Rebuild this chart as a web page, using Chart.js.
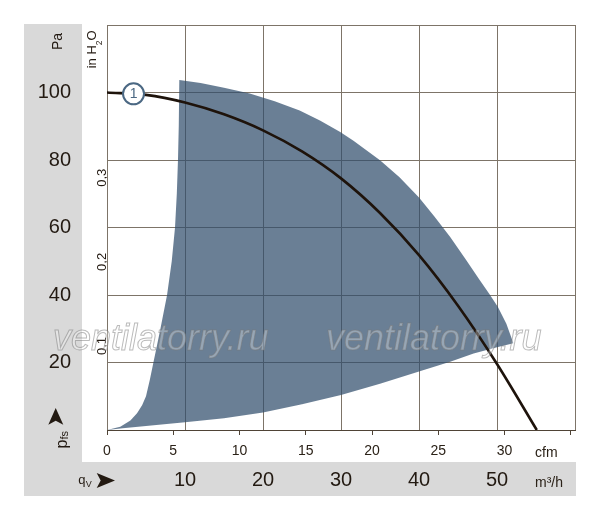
<!DOCTYPE html>
<html>
<head>
<meta charset="utf-8">
<script src="https://cdn.jsdelivr.net/npm/chart.js@4.4.0/dist/chart.umd.min.js"></script>
<style>
html,body{margin:0;padding:0;background:#ffffff;}
#wrap{width:600px;height:519px;}
</style>
</head>
<body>
<div id="wrap"><canvas id="c" width="600" height="519"></canvas></div>
<script>
// ---------- data ----------
const pressureTicksPa = [20, 40, 60, 80, 100];
const flowTicksM3h = [10, 20, 30, 40, 50];
const cfmTickLabels = [0, 5, 10, 15, 20, 25, 30];
const inH2OTickLabels = [0.1, 0.2, 0.3];

// characteristic curve 1 (m³/h, Pa)
const curveFlow     = [0,   5,    10,    15,    20,   25,    30,    35,   40,   45,   50,    55.1];
const curvePressure = [100, 99.3, 97.05, 93.55, 88.8, 82.55, 74.55, 64.3, 51.8, 36.8, 19.55, 0];

// operating range polygon (m³/h, Pa): upper edge, lower edge back to origin, left edge up
const regionFlow = [
  9.27, 12, 15, 18.3, 21.5, 24.7, 27.3, 29.9, 31.6, 33.3, 35, 37.5, 40, 42, 44, 46, 47.8, 49, 50.1, 51.2, 52.1,
  50, 47, 44, 40, 35, 30, 25, 20, 15, 10, 5, 2, 0,
  1.7, 3.0, 3.85, 4.5, 5.0, 5.5, 5.95, 6.4, 6.85, 7.7, 8.3, 8.72, 8.95, 9.1, 9.2, 9.27
];
const regionPressure = [
  103.7, 102.8, 101.4, 99.7, 97.4, 94.7, 91.7, 88.3, 85.7, 82.8, 79.9, 74.9, 68.9, 63.2, 57.2, 50.5, 44.4, 40.4, 36.5, 31.5, 25.7,
  24.5, 22.7, 20.2, 17.3, 13.7, 10.4, 7.6, 5.2, 3.5, 2.3, 1.2, 0.5, 0,
  1, 2.8, 5, 7.3, 10, 15, 20, 25, 30, 40, 50, 60, 70, 80, 90, 103.7
];

const markerFlow = [3.4];
const markerPressure = [99.6];
const markerText = '1';

// ---------- constants ----------
const PA_PER_INH2O = 249.089;
const M3H_PER_CFM = 1.69901;
const FLOW_MAX = 60;
const PRESSURE_MAX = 120;

const REG = '"Liberation Sans", Arial, sans-serif';
const TXT = '#231a12';
const GRID = '#7d7468';
const AXIS = '#4f4336';
const PANEL = '#d9d9d9';
const MARK = '#4b6883';

const zip = (xs, ys) => xs.map((x, i) => ({x: x, y: ys[i]}));

function rotText(ctx, parts, x, y) {
  ctx.save();
  ctx.translate(x, y);
  ctx.rotate(-Math.PI / 2);
  ctx.textAlign = 'left';
  ctx.textBaseline = 'alphabetic';
  let pos = 0;
  for (const p of parts) {
    ctx.font = p.font;
    ctx.fillText(p.t, pos, p.shift || 0);
    pos += ctx.measureText(p.t).width;
  }
  ctx.restore();
}

const decor = {
  id: 'decor',
  beforeDraw(chart) {
    const {ctx, chartArea, scales} = chart;
    const yS = scales.y, xS = scales.x;
    ctx.save();
    ctx.fillStyle = PANEL;
    ctx.fillRect(yS.left, chartArea.top - 1, yS.right - yS.left, xS.bottom - chartArea.top + 1);
    ctx.fillRect(yS.left, xS.top, chartArea.right + 1 - yS.left, xS.bottom - xS.top);
    ctx.restore();
  },
  afterDatasetsDraw(chart) {
    const {ctx} = chart;
    const pt = chart.getDatasetMeta(0).data[0];
    if (!pt) return;
    ctx.save();
    ctx.fillStyle = MARK;
    ctx.font = '14px ' + REG;
    ctx.textAlign = 'center';
    ctx.textBaseline = 'middle';
    ctx.fillText(markerText, pt.x, pt.y + 0.5);
    ctx.restore();
  },
  afterDraw(chart) {
    const {ctx} = chart;
    ctx.save();
    ctx.fillStyle = TXT;
    rotText(ctx, [{t: 'Pa', font: '14px ' + REG}], 61.5, 50);
    rotText(ctx, [
      {t: 'in H', font: '13px ' + REG},
      {t: '2', font: '8.5px ' + REG, shift: 6},
      {t: 'O', font: '13px ' + REG}
    ], 96, 68.3);
    rotText(ctx, [
      {t: 'p', font: '16px ' + REG},
      {t: 'fs', font: '11px ' + REG, shift: 1.5}
    ], 66.6, 448.5);
    ctx.beginPath();
    ctx.moveTo(55.7, 408);
    ctx.lineTo(63.3, 424.7);
    ctx.lineTo(55.7, 420.7);
    ctx.lineTo(48.3, 424.7);
    ctx.closePath();
    ctx.fill();
    ctx.textAlign = 'left';
    ctx.textBaseline = 'alphabetic';
    ctx.font = '13px ' + REG;
    ctx.fillText('q', 78.3, 484);
    ctx.font = '9px ' + REG;
    ctx.fillText('V', 85.7, 486.5);
    ctx.beginPath();
    ctx.moveTo(115, 480.5);
    ctx.lineTo(96.7, 488);
    ctx.lineTo(100.7, 480.5);
    ctx.lineTo(96.7, 473);
    ctx.closePath();
    ctx.fill();
    ctx.fillStyle = '#2b2218';
    ctx.font = '14px ' + REG;
    ctx.fillText('cfm', 535, 456.7);
    ctx.fillText('m³/h', 535, 486.7);
    // watermark
    ctx.font = 'italic 36px ' + REG;
    ctx.lineWidth = 1;
    ctx.fillStyle = 'rgba(255,255,255,0.3)';
    ctx.strokeStyle = 'rgba(120,120,120,0.5)';
    for (const wx of [53, 326]) {
      ctx.fillText('ventilatorry.ru', wx, 350);
      ctx.strokeText('ventilatorry.ru', wx, 350);
    }
    ctx.restore();
  }
};

new Chart(document.getElementById('c'), {
  type: 'line',
  data: {
    datasets: [
      {
        label: 'marker',
        data: zip(markerFlow, markerPressure),
        showLine: false,
        pointRadius: 10.5,
        pointHoverRadius: 10.5,
        pointBackgroundColor: '#ffffff',
        pointBorderColor: MARK,
        pointBorderWidth: 2,
        order: 0
      },
      {
        label: 'curve 1',
        data: zip(curveFlow, curvePressure),
        borderColor: '#1e130b',
        borderWidth: 2.6,
        pointRadius: 0,
        cubicInterpolationMode: 'monotone',
        fill: false,
        order: 1
      },
      {
        label: 'range',
        data: zip(regionFlow, regionPressure),
        borderWidth: 0,
        borderColor: 'rgba(0,0,0,0)',
        pointRadius: 0,
        backgroundColor: 'rgba(49,78,108,0.72)',
        fill: 'shape',
        tension: 0,
        order: 2
      }
    ]
  },
  options: {
    responsive: false,
    animation: false,
    events: [],
    layout: {padding: {left: 24, right: 25, top: 25, bottom: 23}},
    plugins: {legend: {display: false}, tooltip: {enabled: false}},
    scales: {
      x: {
        type: 'linear', position: 'bottom', weight: 1,
        min: 0, max: FLOW_MAX,
        ticks: {
          stepSize: 10, autoSkip: false, maxRotation: 0, padding: 6,
          font: {family: REG, size: 20}, color: TXT,
          callback: v => flowTicksM3h.includes(v) ? String(v) : ''
        },
        grid: {color: GRID, lineWidth: 1, drawTicks: false, tickLength: 0},
        border: {display: false},
        afterFit: s => { s.height = 34; }
      },
      xc: {
        type: 'linear', position: 'bottom', weight: 0,
        min: 0, max: FLOW_MAX / M3H_PER_CFM,
        ticks: {
          stepSize: 5, includeBounds: false, autoSkip: false, maxRotation: 0, padding: 8,
          font: {family: REG, size: 14}, color: '#2b2218',
          callback: v => cfmTickLabels.includes(v) ? String(v) : ''
        },
        grid: {drawOnChartArea: false, drawTicks: true, tickLength: 5, color: AXIS},
        border: {display: true, color: AXIS, width: 1},
        afterFit: s => { s.height = 32; }
      },
      y: {
        type: 'linear', position: 'left', weight: 1,
        min: 0, max: PRESSURE_MAX,
        ticks: {
          stepSize: 20, autoSkip: false, padding: 11,
          font: {family: REG, size: 20}, color: TXT,
          callback: v => pressureTicksPa.includes(v) ? String(v) : ''
        },
        grid: {color: GRID, lineWidth: 1, drawTicks: false, tickLength: 0},
        border: {display: false},
        afterFit: s => { s.width = 58; }
      },
      yi: {
        type: 'linear', position: 'left', weight: 0,
        min: 0, max: PRESSURE_MAX / PA_PER_INH2O,
        ticks: {
          stepSize: 0.1, includeBounds: false, autoSkip: false,
          minRotation: 90, maxRotation: 90, crossAlign: 'center', padding: -4,
          font: {family: REG, size: 13}, color: TXT,
          callback: v => {
            const r = Math.round(v * 10) / 10;
            return (inH2OTickLabels.includes(r) && Math.abs(v - r) < 1e-6) ? r.toFixed(1).replace('.', ',') : '';
          }
        },
        grid: {display: false, drawTicks: false, tickLength: 0},
        border: {display: false},
        afterFit: s => { s.width = 25; }
      }
    }
  },
  plugins: [decor]
});
</script>
</body>
</html>
